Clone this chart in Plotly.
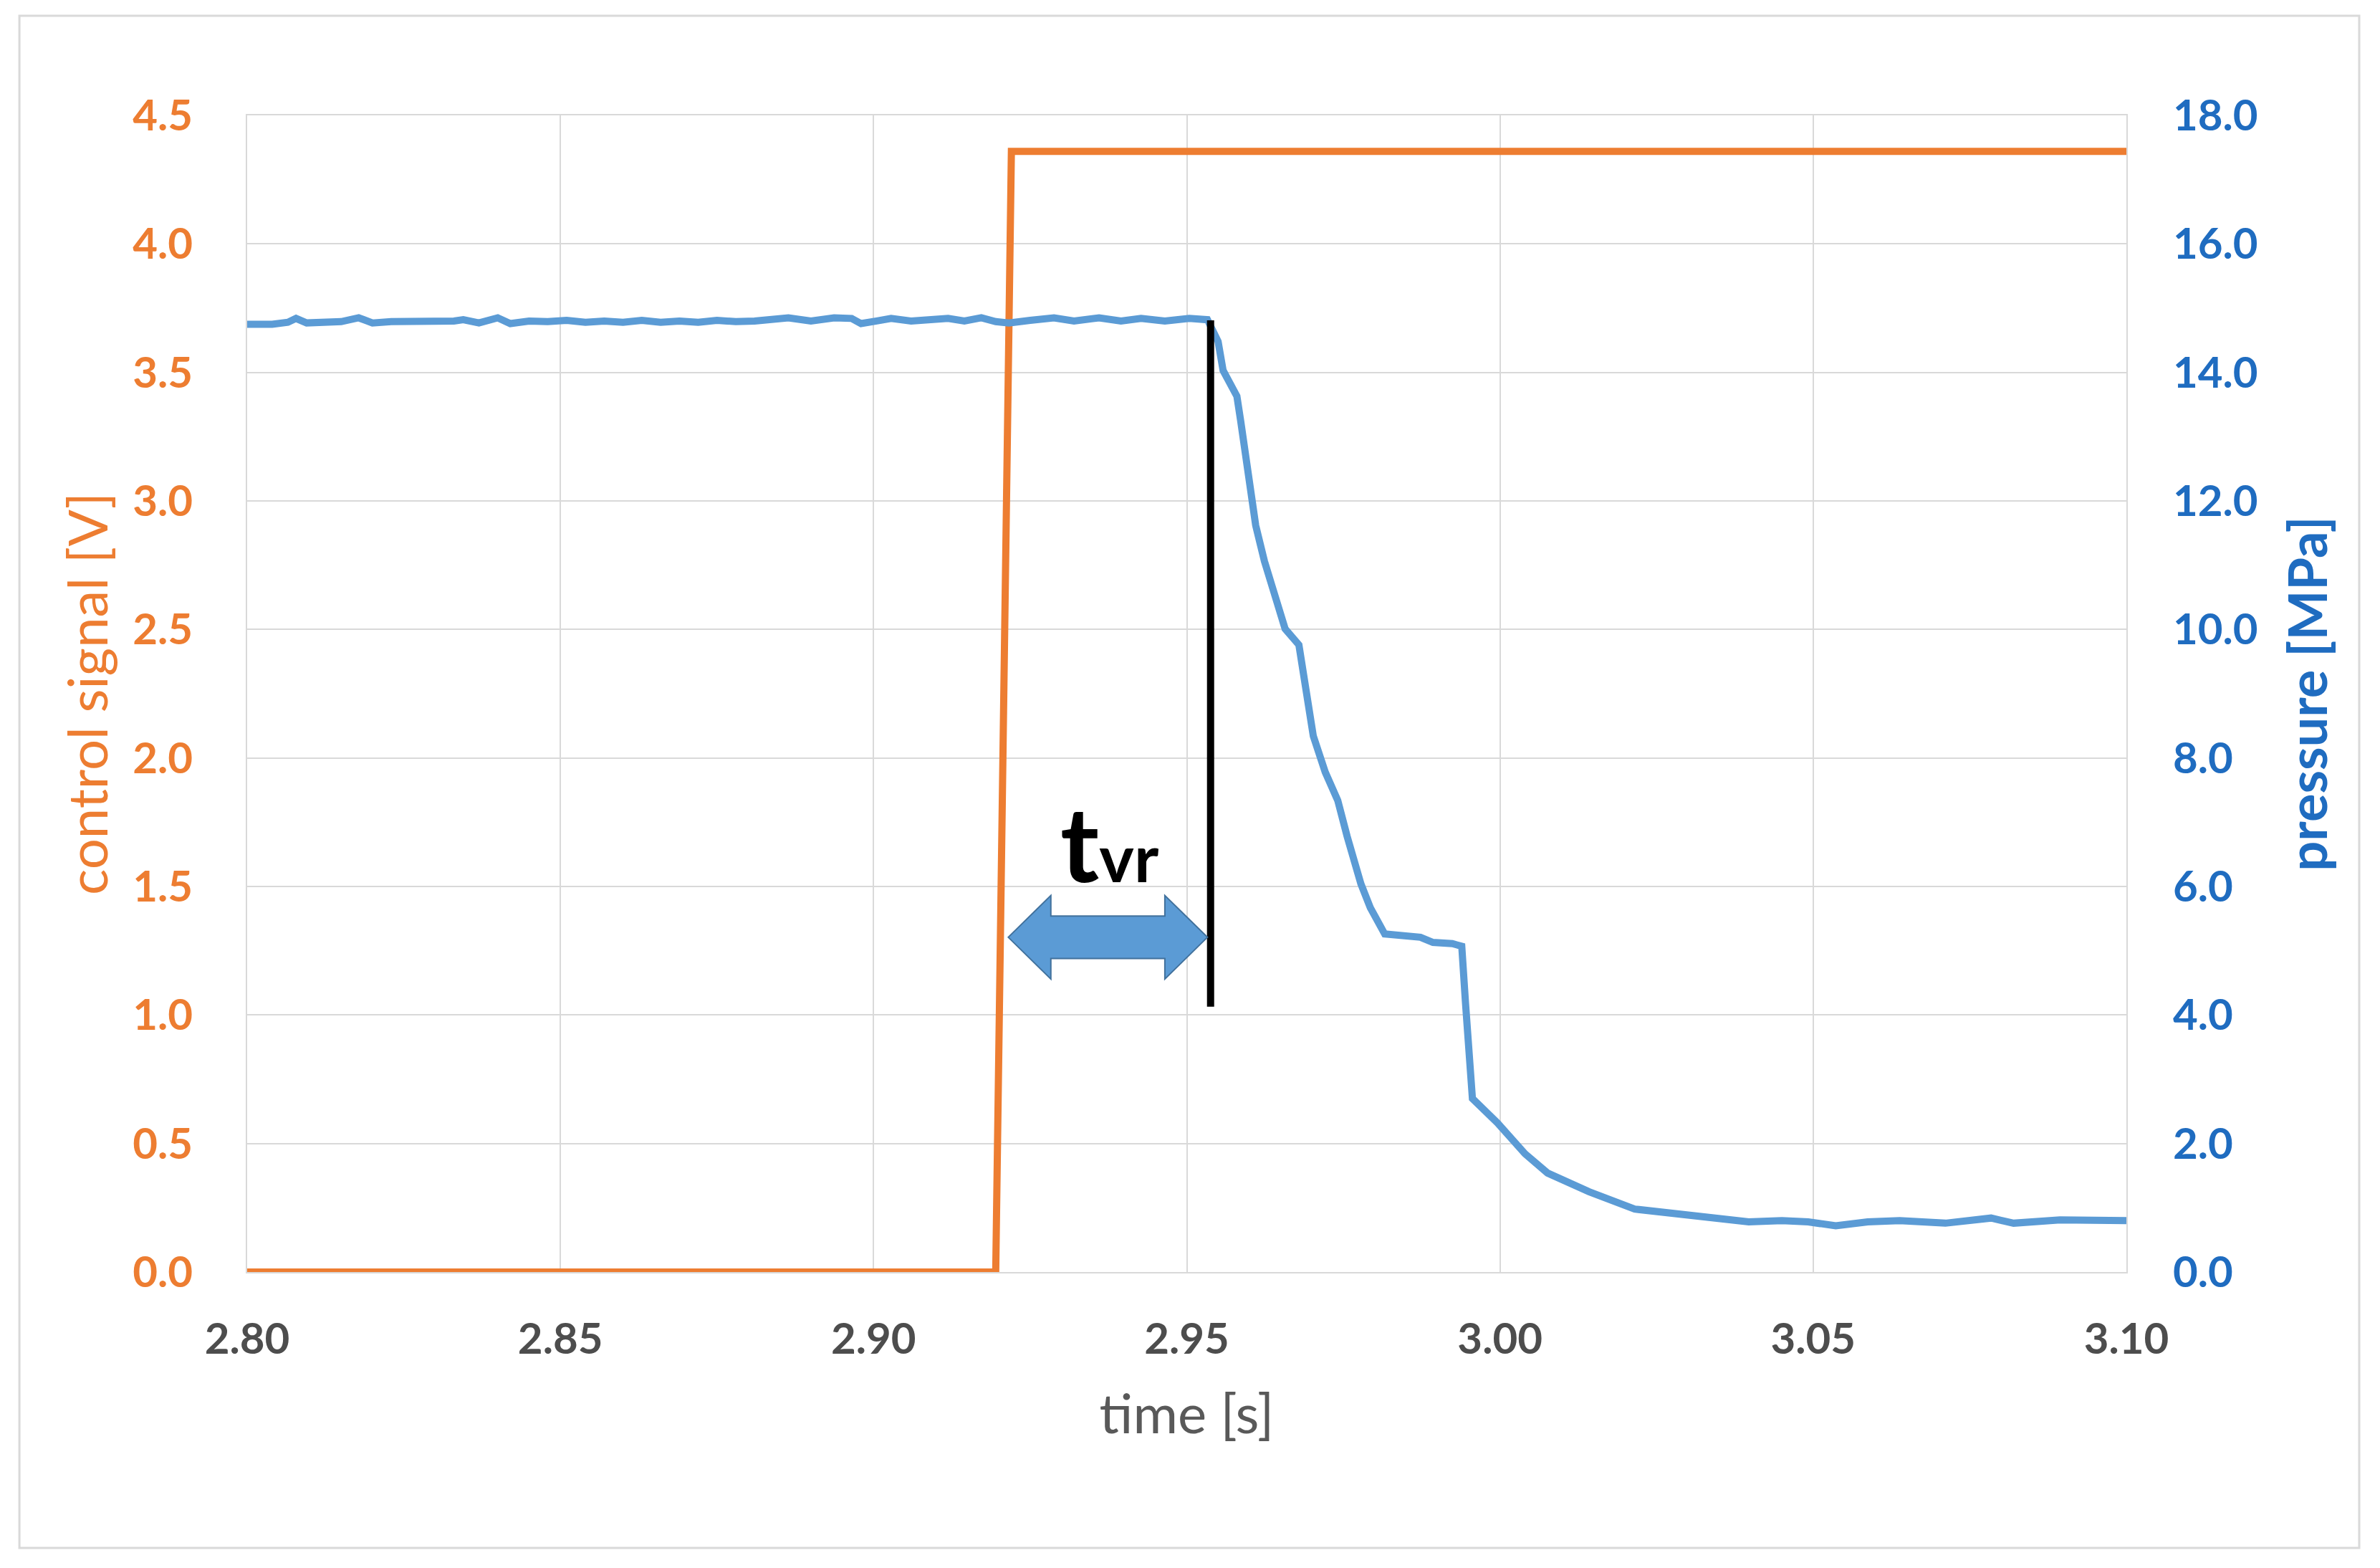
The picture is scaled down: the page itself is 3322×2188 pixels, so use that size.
import plotly.graph_objects as go

# ---------------- data ----------------
signal_time = [2.800, 2.9195, 2.9220, 3.100]
signal_volt = [0.0, 0.0, 4.36, 4.36]

pressure_time = [
    2.8000, 2.8040, 2.8065, 2.8078, 2.8095, 2.8120, 2.8150, 2.8178, 2.8200, 2.8230,
    2.8280, 2.8330, 2.8345, 2.8370, 2.8400, 2.8420, 2.8450, 2.8480, 2.8510, 2.8540,
    2.8570, 2.8600, 2.8630, 2.8660, 2.8690, 2.8720, 2.8750, 2.8780, 2.8810, 2.8840,
    2.8864, 2.8900, 2.8937, 2.8965, 2.8980, 2.9005, 2.9028, 2.9060, 2.9090, 2.9119,
    2.9145, 2.9172, 2.9195, 2.9216, 2.9250, 2.9288, 2.9320, 2.9360, 2.9395, 2.9427,
    2.9465, 2.9504, 2.9533,
    2.9550, 2.9558, 2.9580, 2.9586, 2.9598, 2.9610, 2.9624, 2.9641, 2.9657, 2.9679,
    2.9695, 2.9702, 2.9721, 2.9741, 2.9756, 2.9778, 2.9793, 2.9816, 2.9873, 2.9893,
    2.9924, 2.9939, 2.9945, 2.9956, 2.9996, 3.0040, 3.0076, 3.0142, 3.0215, 3.0273,
    3.0332, 3.0397, 3.0450, 3.0492, 3.0536, 3.0587, 3.0638, 3.0711, 3.0784, 3.0820,
    3.0894, 3.1000,
]
pressure_mpa = [
    14.75, 14.75, 14.78, 14.84, 14.77, 14.78, 14.79, 14.85, 14.77, 14.79,
    14.79, 14.80, 14.82, 14.77, 14.85, 14.76, 14.80, 14.79, 14.81, 14.78,
    14.80, 14.78, 14.81, 14.78, 14.80, 14.78, 14.81, 14.79, 14.80, 14.83,
    14.85, 14.80, 14.85, 14.84, 14.76, 14.80, 14.84, 14.80, 14.81, 14.84,
    14.80, 14.85, 14.79, 14.77, 14.81, 14.85, 14.80, 14.85, 14.80, 14.84,
    14.80, 14.84, 14.82,
    14.48, 14.03, 13.63, 13.25, 12.36, 11.62, 11.06, 10.51, 10.01, 9.76,
    8.64, 8.34, 7.78, 7.34, 6.78, 6.04, 5.67, 5.26, 5.21, 5.13,
    5.11, 5.07, 4.18, 2.70, 2.32, 1.84, 1.54, 1.25, 0.98, 0.91,
    0.84, 0.78, 0.80, 0.78, 0.72, 0.78, 0.80, 0.76, 0.84, 0.76,
    0.81, 0.80,
]

x_ticks = [2.80, 2.85, 2.90, 2.95, 3.00, 3.05, 3.10]
x_tick_labels = ["2.80", "2.85", "2.90", "2.95", "3.00", "3.05", "3.10"]
v_ticks = [0.0, 0.5, 1.0, 1.5, 2.0, 2.5, 3.0, 3.5, 4.0, 4.5]
v_tick_labels = ["0.0", "0.5", "1.0", "1.5", "2.0", "2.5", "3.0", "3.5", "4.0", "4.5"]
p_ticks = [0, 2, 4, 6, 8, 10, 12, 14, 16, 18]
p_tick_labels = ["0.0", "2.0", "4.0", "6.0", "8.0", "10.0", "12.0", "14.0", "16.0", "18.0"]

# annotation: t_vr interval (from valve signal to start of pressure drop)
tvr_start = 2.9215
tvr_end = 2.9533
drop_time = 2.9538
drop_line_top = 14.81
drop_line_bottom = 4.13
arrow_center = 5.21        # MPa (right axis)
shaft_half = 0.33
head_half = 0.65
head_len = 0.0068
label_time = 2.9376
label_level = 5.70

# ---------------- style ----------------
ORANGE = "#ED7D31"
BLUE_LINE = "#5B9BD5"
BLUE_TEXT = "#1F6CC0"
GRID = "#D9D9D9"
GRAY_TEXT = "#4D4D4D"
FONT = "Lato"

fig = go.Figure()
fig.add_trace(go.Scatter(x=signal_time, y=signal_volt, mode="lines",
                         line=dict(color=ORANGE, width=10), name="control signal",
                         yaxis="y"))
fig.add_trace(go.Scatter(x=pressure_time, y=pressure_mpa, mode="lines",
                         line=dict(color=BLUE_LINE, width=10), name="pressure",
                         yaxis="y2"))

# double arrow
a, b = tvr_start, tvr_end
c = arrow_center
arrow_path = (
    f"M {a},{c} "
    f"L {a + head_len},{c + head_half} L {a + head_len},{c + shaft_half} "
    f"L {b - head_len},{c + shaft_half} L {b - head_len},{c + head_half} "
    f"L {b},{c} "
    f"L {b - head_len},{c - head_half} L {b - head_len},{c - shaft_half} "
    f"L {a + head_len},{c - shaft_half} L {a + head_len},{c - head_half} Z"
)

shapes = [
    dict(type="rect", xref="paper", yref="paper", x0=-0.1212, x1=1.1239,
         y0=-0.2385, y1=1.0861, line=dict(color=GRID, width=3), layer="below"),
    dict(type="line", xref="x", yref="y2", x0=drop_time, x1=drop_time,
         y0=drop_line_bottom, y1=drop_line_top, line=dict(color="black", width=10)),
    dict(type="path", xref="x", yref="y2", path=arrow_path,
         fillcolor=BLUE_LINE, line=dict(color="#41719C", width=2)),
]

annotations = [
    dict(x=label_time, y=label_level, xref="x", yref="y2",
         text="t<span style='font-size:92px'>vr</span>", showarrow=False,
         font=dict(family=FONT, size=146, color="black", weight="bold"),
         xanchor="center", yanchor="bottom"),
]

fig.update_layout(
    width=3306, height=2172,
    margin=dict(l=337, r=346, t=153, b=405),
    paper_bgcolor="white", plot_bgcolor="white",
    showlegend=False,
    font=dict(family=FONT),
    shapes=shapes,
    annotations=annotations,
    xaxis=dict(
        range=[2.80, 3.10], tickvals=x_ticks, ticktext=x_tick_labels,
        showgrid=True, gridcolor=GRID, gridwidth=2,
        showline=True, linecolor=GRID, linewidth=2, mirror=True,
        zeroline=False, ticks="",
        tickfont=dict(family=FONT, size=60, color=GRAY_TEXT, weight="bold"),
        ticklabelstandoff=40,
        title=dict(text="time [s]", font=dict(family=FONT, size=76, color="#595959"),
                   standoff=46),
    ),
    yaxis=dict(
        range=[0, 4.5], tickvals=v_ticks, ticktext=v_tick_labels,
        showgrid=True, gridcolor=GRID, gridwidth=2,
        showline=True, linecolor=GRID, linewidth=2, mirror=True,
        zeroline=False, ticks="",
        tickfont=dict(family=FONT, size=60, color=ORANGE, weight="bold"),
        ticklabelstandoff=62,
        title=dict(text="control signal [V]", font=dict(family=FONT, size=76, color=ORANGE),
                   standoff=10),
    ),
    yaxis2=dict(
        range=[0, 18], tickvals=p_ticks, ticktext=p_tick_labels,
        overlaying="y", side="right",
        showgrid=False, zeroline=False, ticks="", showline=False,
        tickfont=dict(family=FONT, size=60, color=BLUE_TEXT, weight="bold"),
        ticklabelstandoff=64,
        title=dict(text="pressure [MPa]", font=dict(family=FONT, size=74, color=BLUE_TEXT, weight="bold"),
                   standoff=45),
    ),
)

fig.write_html("out.html")
